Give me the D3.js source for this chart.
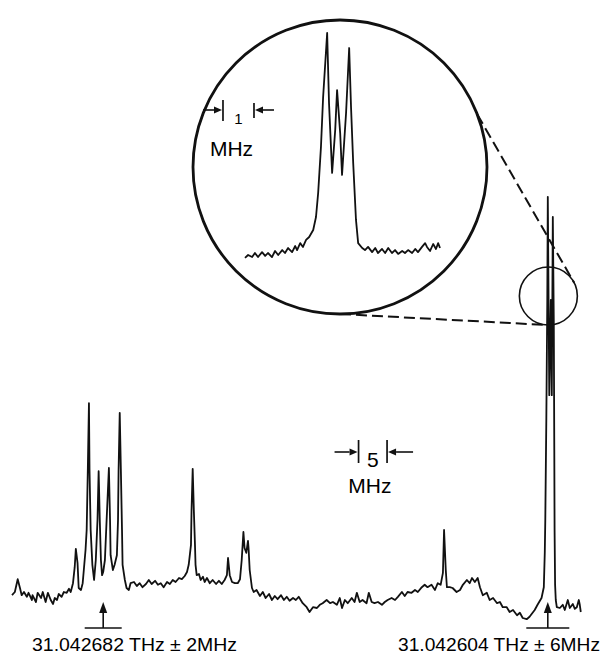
<!DOCTYPE html>
<html>
<head>
<meta charset="utf-8">
<script src="https://cdn.jsdelivr.net/npm/d3@7"></script>
<style>
  body { margin: 0; background: #fff; }
  svg { display: block; font-family: "Liberation Sans", Arial, sans-serif; }
  .trace { fill: none; stroke: #111; stroke-width: 1.8; stroke-linejoin: round; }
</style>
</head>
<body>
<div id="chart"></div>
<script>
var width = 602, height = 657;

// main scan: [offset from 31.042604 THz (MHz), signal (arb. units)]
var mainScan = [
  [94.0,6.2],[93.5,7.0],[93.0,10.2],[92.6,8.0],[92.3,6.2],[91.9,7.0],[91.4,5.8],[91.1,6.8],[90.5,5.0],[90.4,6.2],
  [89.8,4.5],[89.5,6.8],[88.9,5.5],[88.6,7.0],[88.1,4.5],[87.7,6.8],[87.2,5.0],[86.8,4.0],[86.5,5.5],[86.1,5.0],
  [85.8,6.5],[85.3,5.8],[84.9,7.0],[84.4,6.8],[84.0,7.8],[83.7,7.0],[83.3,9.2],[83.0,13.2],[82.8,17.8],[82.5,14.2],
  [82.3,8.0],[81.9,7.5],[81.6,9.2],[81.4,12.5],[81.1,17.5],[80.9,22.5],[80.7,37.5],[80.5,54.2],[80.4,37.5],[80.2,22.5],
  [79.9,13.8],[79.6,10.0],[79.3,15.0],[79.0,25.0],[78.8,37.2],[78.6,25.0],[78.4,15.0],[78.2,11.2],[78.0,12.0],[77.7,15.0],
  [77.4,25.0],[77.0,38.0],[76.8,25.0],[76.7,16.2],[76.3,12.5],[76.0,13.8],[75.6,16.2],[75.4,25.0],[75.3,37.5],[75.1,51.8],
  [74.9,37.5],[74.7,22.5],[74.6,13.8],[74.2,10.0],[73.9,8.0],[73.5,7.5],[73.2,9.2],[72.6,9.5],[72.1,8.5],[71.6,9.2],
  [71.1,8.2],[70.5,9.0],[70.0,10.0],[69.5,9.0],[68.9,9.8],[68.4,8.8],[67.9,9.2],[67.4,8.2],[66.8,9.5],[66.3,9.0],
  [65.8,10.0],[65.3,9.5],[64.7,10.5],[64.2,10.2],[63.7,11.0],[63.3,12.0],[63.0,13.8],[62.6,18.8],[62.5,27.5],[62.3,37.8],
  [62.1,27.5],[61.9,18.8],[61.8,13.8],[61.6,11.2],[61.2,11.5],[60.9,10.0],[60.5,10.8],[60.2,9.5],[59.8,10.5],[59.3,9.2],
  [58.8,10.0],[58.2,9.0],[57.7,9.8],[57.2,9.0],[56.7,10.0],[56.3,11.2],[56.1,15.5],[55.8,11.2],[55.4,9.5],[54.9,9.2],
  [54.4,9.2],[54.0,10.2],[53.7,15.0],[53.4,22.0],[53.2,18.0],[52.9,16.8],[52.6,19.8],[52.5,18.0],[52.3,12.5],[51.9,8.0],
  [51.6,7.0],[51.1,7.5],[50.5,6.0],[50.0,7.0],[49.5,5.5],[48.9,6.5],[48.4,5.0],[47.9,6.0],[47.4,5.2],[46.8,6.2],
  [46.3,5.0],[45.8,5.8],[45.3,4.8],[44.7,5.5],[44.2,5.0],[43.7,5.8],[43.0,4.2],[42.3,3.2],[41.8,2.0],[41.2,3.2],
  [40.5,3.0],[40.0,3.8],[39.5,4.2],[38.8,5.0],[38.2,4.2],[37.7,4.5],[37.0,3.8],[36.5,5.5],[36.1,3.0],[35.6,5.0],
  [35.1,4.2],[34.4,5.5],[33.9,4.5],[33.5,6.8],[33.0,4.5],[32.5,5.0],[31.8,4.2],[31.4,6.8],[30.9,4.5],[30.4,4.2],
  [29.8,4.5],[29.1,3.8],[28.6,4.5],[28.1,5.0],[27.4,5.5],[26.8,5.0],[26.3,5.8],[25.6,7.0],[25.1,6.0],[24.6,7.0],
  [23.9,6.8],[23.3,7.5],[22.8,7.0],[22.1,8.2],[21.6,8.8],[21.1,8.2],[20.4,8.8],[19.8,7.5],[19.3,9.2],[18.8,8.8],
  [18.4,11.8],[18.2,22.5],[17.9,12.5],[17.7,8.2],[17.2,8.2],[16.7,8.0],[16.0,7.0],[15.4,7.5],[14.9,8.8],[14.2,10.0],
  [13.7,9.2],[13.3,10.5],[12.8,9.5],[12.3,10.5],[11.9,8.2],[11.4,6.2],[10.7,6.8],[10.2,5.0],[9.6,5.5],[8.9,4.2],
  [8.4,4.5],[7.9,3.2],[7.2,3.2],[6.7,2.0],[6.1,2.5],[5.4,1.2],[4.9,1.8],[4.4,0.5],[3.7,0.2],[3.2,0.8],
  [2.3,2.5],[1.8,3.8],[1.1,5.5],[0.70,8.2],[0.53,16.8],[0.44,25],[0.26,50],[0.09,80],[0,105.8],[-0.26,56.2],
  [-0.53,80],[-0.70,56.2],[-0.88,100.8],[-1.05,75],[-1.14,42.5],[-1.19,22.5],[-1.28,8.8],[-1.40,5.0],[-1.58,3.2],[-2.11,3.0],
  [-2.63,3.8],[-2.98,2.5],[-3.51,5.0],[-3.86,3.0],[-4.39,4.0],[-4.74,2.8],[-5.09,3.2],[-5.44,5.0],[-5.61,3.8],[-5.79,2.0]
]

// expanded scan of the strong line: [MHz from centre, signal]
var insetScan = [
  [2.97,1.8],[2.87,3.1],[2.74,2.2],[2.65,4.0],[2.55,2.2],[2.42,4.4],[2.32,2.7],[2.23,4.0],[2.10,2.2],[2.00,4.9],
  [1.90,3.1],[1.77,5.3],[1.68,4.0],[1.58,6.2],[1.45,4.4],[1.35,7.1],[1.29,5.3],[1.19,8.4],[1.10,6.7],[1.00,9.8],
  [0.90,11.1],[0.77,14.2],[0.68,20.0],[0.61,30.7],[0.52,51.1],[0.45,73.3],[0.32,101.8],[0.26,70.7],[0.16,39.6],[0.06,58.7],
  [0.00,76.4],[-0.10,57.3],[-0.16,38.7],[-0.29,66.2],[-0.39,95.1],[-0.45,68.9],[-0.52,44.0],[-0.61,18.7],[-0.68,8.4],[-0.81,6.2],
  [-0.90,5.3],[-1.00,6.7],[-1.13,4.4],[-1.23,6.2],[-1.32,4.0],[-1.45,5.8],[-1.55,4.0],[-1.65,6.2],[-1.77,4.0],[-1.87,5.3],
  [-1.97,3.6],[-2.10,4.9],[-2.19,4.0],[-2.29,5.3],[-2.42,4.0],[-2.52,5.8],[-2.61,4.4],[-2.74,6.7],[-2.84,8.4],[-2.90,6.7],
  [-3.00,4.9],[-3.10,8.0],[-3.19,5.8],[-3.26,8.4],[-3.32,6.2]
]

var lineFreqs = [78, 0]   // MHz offsets of the two identified lines
var lineLabels = ["31.042682 THz \u00b1 2MHz", "31.042604 THz \u00b1 6MHz"]
var mainBarMHz = [33.2, 28.2]   // 5 MHz calibration bar
var insetBarMHz = [3.68, 2.68]  // 1 MHz calibration bar
var zoomSpot = [-0.1, 81]       // where the inset is taken from

var svg = d3.select("#chart")
  .append("svg")
  .attr("width", width)
  .attr("height", height)

svg.append("rect").attr("width", width).attr("height", height).attr("fill", "#fff")

// scales (frequency decreases to the right)
var xScale = d3.scaleLinear().domain([94, -6]).range([12, 582])
var yScale = d3.scaleLinear().domain([0, 106]).range([620, 196])

var xInset = d3.scaleLinear().domain([2.97, -3.32]).range([245, 440])
var yInset = d3.scaleLinear().domain([0, 100]).range([262, 37])

var mainLine = d3.line().x(d => xScale(d[0])).y(d => yScale(d[1]))
var insetLine = d3.line().x(d => xInset(d[0])).y(d => yInset(d[1]))

// arrow helper: line with filled head at (x2,y2)
function arrow(g, x1, y1, x2, y2, len, hw) {
  len = len || 8; hw = hw || 3.5
  var a = Math.atan2(y2 - y1, x2 - x1)
  var bx = x2 - len * Math.cos(a), by = y2 - len * Math.sin(a)
  g.append("line")
    .attr("x1", x1).attr("y1", y1).attr("x2", bx).attr("y2", by)
    .attr("stroke", "#111").attr("stroke-width", 1.6)
  g.append("path")
    .attr("d", `M${x2},${y2}L${bx + hw * Math.sin(a)},${by - hw * Math.cos(a)}L${bx - hw * Math.sin(a)},${by + hw * Math.cos(a)}Z`)
    .attr("fill", "#111")
}

// inset circle
var big = {cx: 340, cy: 167, r: 147}
var small = {cx: xScale(zoomSpot[0]), cy: yScale(zoomSpot[1]), r: 29}

svg.append("circle")
  .attr("cx", big.cx).attr("cy", big.cy).attr("r", big.r)
  .attr("fill", "none").attr("stroke", "#111").attr("stroke-width", 2.8)

svg.append("circle")
  .attr("cx", small.cx).attr("cy", small.cy).attr("r", small.r)
  .attr("fill", "none").attr("stroke", "#111").attr("stroke-width", 1.6)

// dashed connectors
function onCircle(c, deg) {
  var t = deg * Math.PI / 180
  return [c.cx + c.r * Math.cos(t), c.cy + c.r * Math.sin(t)]
}
var connectors = [[-21, -27], [90, 93]]
connectors.forEach(function(p) {
  var a = onCircle(big, p[0]), b = onCircle(small, p[1])
  svg.append("line")
    .attr("x1", a[0]).attr("y1", a[1]).attr("x2", b[0]).attr("y2", b[1])
    .attr("stroke", "#111").attr("stroke-width", 2)
    .attr("stroke-dasharray", "11,5")
})

// traces
svg.append("path")
  .datum(insetScan)
  .attr("class", "trace")
  .attr("d", insetLine)

svg.append("path")
  .datum(mainScan)
  .attr("class", "trace")
  .attr("d", mainLine)

// 5 MHz bar
var calib = svg.append("g")
var bx1 = xScale(mainBarMHz[0]), bx2 = xScale(mainBarMHz[1])
calib.append("line").attr("x1", bx1).attr("x2", bx1).attr("y1", 440).attr("y2", 463)
  .attr("stroke", "#111").attr("stroke-width", 1.7)
calib.append("line").attr("x1", bx2).attr("x2", bx2).attr("y1", 440).attr("y2", 463)
  .attr("stroke", "#111").attr("stroke-width", 1.7)
arrow(calib, bx1 - 24, 452, bx1 - 1, 452)
arrow(calib, bx2 + 26, 452, bx2 + 1, 452)
calib.append("text").attr("x", (bx1 + bx2) / 2).attr("y", 467)
  .attr("text-anchor", "middle").style("font-size", "21px")
  .text(Math.round(mainBarMHz[0] - mainBarMHz[1]))
calib.append("text").attr("x", (bx1 + bx2) / 2 - 3).attr("y", 493)
  .attr("text-anchor", "middle").style("font-size", "21px").text("MHz")

// 1 MHz bar in inset
var ix1 = xInset(insetBarMHz[0]), ix2 = xInset(insetBarMHz[1])
calib.append("line").attr("x1", ix1).attr("x2", ix1).attr("y1", 100).attr("y2", 121)
  .attr("stroke", "#111").attr("stroke-width", 1.7)
calib.append("line").attr("x1", ix2).attr("x2", ix2).attr("y1", 103).attr("y2", 118)
  .attr("stroke", "#111").attr("stroke-width", 1.7)
arrow(calib, ix1 - 20, 110, ix1 - 1, 110)
arrow(calib, ix2 + 20, 110, ix2 + 1, 110)
calib.append("text").attr("x", (ix1 + ix2) / 2).attr("y", 124)
  .attr("text-anchor", "middle").style("font-size", "15px")
  .text(Math.round(insetBarMHz[0] - insetBarMHz[1]))
calib.append("text").attr("x", (ix1 + ix2) / 2 - 7).attr("y", 156)
  .attr("text-anchor", "middle").style("font-size", "21px").text("MHz")

// line markers and labels
var labelX = [32, 398], labelW = [205, 202], barHalf = [18.5, 21.5]
lineFreqs.forEach(function(f, i) {
  var g = svg.append("g").attr("class", "line-marker")
  var x = xScale(f)
  arrow(g, x, 628, x, 602, 11, 4)
  g.append("line").attr("x1", x - barHalf[i]).attr("x2", x + barHalf[i])
    .attr("y1", 628).attr("y2", 628).attr("stroke", "#111").attr("stroke-width", 1.6)
  g.append("text")
    .attr("x", labelX[i]).attr("y", 651)
    .attr("textLength", labelW[i]).attr("lengthAdjust", "spacingAndGlyphs")
    .style("font-size", "19px")
    .text(lineLabels[i])
})
</script>
</body>
</html>
